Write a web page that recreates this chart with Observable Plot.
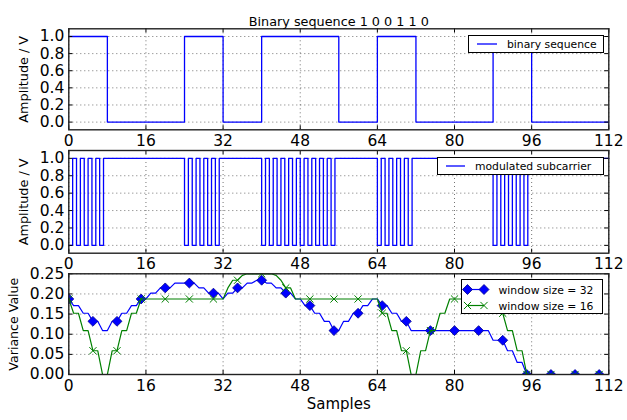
<!DOCTYPE html>
<html>
<head>
<meta charset="utf-8">
<script src="https://cdn.jsdelivr.net/npm/d3@7"></script>
<script src="https://cdn.jsdelivr.net/npm/@observablehq/plot@0.6"></script>
<style>
  body { margin: 0; background: #fff; }
  #chart { position: relative; width: 627px; height: 420px; font-family: "DejaVu Sans", sans-serif; background: #fff; overflow: hidden; }
  #chart > svg { position: absolute; left: 0; overflow: visible; }
  .lg { position: absolute; overflow: visible; }
</style>
</head>
<body>
<div id="chart"></div>
<script>
// ---------------- data ----------------
const xTicks = [0, 16, 32, 48, 64, 80, 96, 112];
const ampTicks = [0, 0.2, 0.4, 0.6, 0.8, 1.0];
const varTicks = [0, 0.05, 0.10, 0.15, 0.20, 0.25];

const titleText = "Binary sequence 1 0 0 1 1 0";

// binary (Manchester) sequence: change points and level after each
const binaryX = [0, 8, 24, 32, 40, 56, 64, 72, 88, 96, 112];
const binaryY = [1, 0, 1, 0, 1, 0, 1, 0, 1, 0, 0];

// modulated subcarrier: low intervals [start, end] (high elsewhere)
const subLows = [
  [0, 0.8], [1.6, 2.4], [3.2, 4.0], [4.8, 5.6], [6.4, 7.2],
  [24, 24.8], [25.6, 26.4], [27.2, 28.0], [28.8, 29.6], [30.4, 31.2],
  [40, 40.8], [41.6, 42.4], [43.2, 44.0], [44.8, 45.6], [46.4, 47.2],
  [48, 48.8], [49.6, 50.4], [51.2, 52.0], [52.8, 53.6], [54.4, 55.2],
  [64, 64.8], [65.6, 66.4], [67.2, 68.0], [68.8, 69.6], [70.4, 71.2],
  [88, 88.8], [89.6, 90.4], [91.2, 92.0], [92.8, 93.6], [94.4, 95.2]
];

// variance, window size = 32 (samples 0..112)
const var32 = [
  0.1875, 0.171, 0.171, 0.152, 0.152, 0.132, 0.132, 0.109, 0.109, 0.132,
  0.132, 0.152, 0.152, 0.171, 0.171, 0.1875, 0.1875, 0.202, 0.202, 0.215,
  0.215, 0.215, 0.227, 0.227, 0.227, 0.227, 0.227, 0.215, 0.215, 0.202,
  0.202, 0.202, 0.1875, 0.202, 0.202, 0.215, 0.215, 0.227, 0.227, 0.234,
  0.234, 0.227, 0.227, 0.215, 0.215, 0.202, 0.202, 0.1875, 0.1875, 0.171,
  0.171, 0.152, 0.152, 0.132, 0.132, 0.109, 0.109, 0.132, 0.132, 0.152,
  0.152, 0.171, 0.171, 0.1875, 0.1875, 0.171, 0.171, 0.152, 0.152, 0.132,
  0.132, 0.109, 0.109, 0.109, 0.109, 0.109, 0.109, 0.109, 0.109, 0.109,
  0.109, 0.109, 0.109, 0.109, 0.109, 0.109, 0.109, 0.109, 0.085, 0.085,
  0.085, 0.059, 0.059, 0.030, 0.030, 0, 0, 0, 0, 0,
  0, 0, 0, 0, 0, 0, 0, 0, 0, 0,
  0, 0, 0
];

// variance, window size = 16 (samples 0..112)
const var16 = [
  0.1875, 0.152, 0.152, 0.109, 0.109, 0.059, 0.059, 0, 0, 0.059,
  0.059, 0.109, 0.109, 0.152, 0.152, 0.1875, 0.1875, 0.1875, 0.1875, 0.1875,
  0.1875, 0.1875, 0.1875, 0.1875, 0.1875, 0.1875, 0.1875, 0.1875, 0.1875, 0.1875,
  0.1875, 0.1875, 0.1875, 0.215, 0.234, 0.234, 0.246, 0.25, 0.25, 0.25,
  0.25, 0.25, 0.25, 0.246, 0.234, 0.215, 0.215, 0.1875, 0.1875, 0.1875,
  0.1875, 0.1875, 0.1875, 0.1875, 0.1875, 0.1875, 0.1875, 0.1875, 0.1875, 0.1875,
  0.1875, 0.1875, 0.1875, 0.1875, 0.1875, 0.152, 0.152, 0.109, 0.109, 0.059,
  0.059, 0, 0, 0.059, 0.059, 0.109, 0.109, 0.152, 0.152, 0.1875,
  0.1875, 0.1875, 0.1875, 0.1875, 0.1875, 0.1875, 0.1875, 0.1875, 0.1875, 0.152,
  0.152, 0.109, 0.109, 0.059, 0.059, 0, 0, 0, 0, 0,
  0, 0, 0, 0, 0, 0, 0, 0, 0, 0,
  0, 0, 0
];

const legend1 = "binary sequence";
const legend2 = "modulated subcarrier";
const legend3a = "window size = 32";
const legend3b = "window size = 16";
const ampLabel = "Amplitude / V";
const varLabel = "Variance Value";
const xLabel = "Samples";

// ---------------- build tables ----------------
const binaryData = binaryX.map((x, i) => ({x, y: binaryY[i]}));
const subData = [];
subLows.forEach(([a, b]) => { subData.push({x: a, y: 0}); subData.push({x: b, y: 1}); });
subData.push({x: 112, y: 1});
const w32Data = var32.map((y, x) => ({x, y}));
const w16Data = var16.map((y, x) => ({x, y}));
const markEvery = d => d.x % 5 === 0;

// ---------------- styles ----------------
const BLUE = "#0000ff", GREEN = "#008000";
const FONT = "DejaVu Sans, sans-serif";
const W = 627, ML = 68.3, MR = W - 608.3;

const diamondSym = {draw(c, size) { const r = Math.sqrt(size / Math.PI) * 1.1; c.moveTo(0, -r); c.lineTo(r, 0); c.lineTo(0, r); c.lineTo(-r, 0); c.closePath(); }};
const timesSym = {draw(c, size) { const r = Math.sqrt(size / Math.PI); c.moveTo(-r, -r); c.lineTo(r, r); c.moveTo(-r, r); c.lineTo(r, -r); }};

function panel({top, height, mt, mb, yDomain, yTicks, yFmt, marks, extra}) {
  const ph = height - mt - mb;
  const pw = W - ML - MR;
  const svg = Plot.plot({
    width: W, height,
    marginLeft: ML, marginRight: MR, marginTop: mt, marginBottom: mb,
    style: {background: "transparent", fontFamily: FONT, color: "#000", overflow: "visible"},
    x: {domain: [0, 112]},
    y: {domain: yDomain},
    marks: [
      Plot.ruleX(xTicks, {x: d => d, stroke: "#000", strokeOpacity: 0.55, strokeWidth: 1, strokeDasharray: "1,3"}),
      Plot.ruleY(yTicks, {y: d => d, stroke: "#000", strokeOpacity: 0.55, strokeWidth: 1, strokeDasharray: "1,3"}),
      ...marks,
      // inward ticks on four sides
      Plot.tickX(xTicks, {x: d => d, insetTop: ph - 4, stroke: "#000"}),
      Plot.tickX(xTicks, {x: d => d, insetBottom: ph - 4, stroke: "#000"}),
      Plot.tickY(yTicks, {y: d => d, insetRight: pw - 4, stroke: "#000"}),
      Plot.tickY(yTicks, {y: d => d, insetLeft: pw - 4, stroke: "#000"}),
      Plot.frame({stroke: "#222", strokeWidth: 1.4}),
      Plot.axisX(xTicks, {anchor: "bottom", tickSize: 0, tickPadding: 5, label: null, fontSize: 15.5}),
      Plot.axisY(yTicks, {anchor: "left", tickSize: 0, tickPadding: 4.5, tickFormat: yFmt, label: null, fontSize: 15.5}),
      ...(extra || [])
    ]
  });
  svg.style.top = top + "px";
  document.getElementById("chart").appendChild(svg);
}

// Panel 1
panel({
  top: 0, height: 152, mt: 28.3, mb: 22.7,
  yDomain: [-0.09, 1.09], yTicks: ampTicks, yFmt: d3.format(".1f"),
  marks: [
    Plot.line(binaryData, {x: "x", y: "y", curve: "step-after", stroke: BLUE, strokeWidth: 1.3})
  ],
  extra: [
    Plot.text([titleText], {text: d => d, frameAnchor: "top", dy: -12, fontSize: 12.8}),
    Plot.text([ampLabel], {text: d => d, frameAnchor: "left", textAnchor: "middle", dx: -45, rotate: -90, fontSize: 12.8})
  ]
});

// Panel 2
panel({
  top: 130, height: 145, mt: 20, mb: 22.3,
  yDomain: [-0.09, 1.09], yTicks: ampTicks, yFmt: d3.format(".1f"),
  marks: [
    Plot.line(subData, {x: "x", y: "y", curve: "step-after", stroke: BLUE, strokeWidth: 1.3})
  ],
  extra: [
    Plot.text([ampLabel], {text: d => d, frameAnchor: "left", textAnchor: "middle", dx: -45, rotate: -90, fontSize: 12.8})
  ]
});

// Panel 3
panel({
  top: 253, height: 167, mt: 20.3, mb: 46,
  yDomain: [0, 0.25], yTicks: varTicks, yFmt: d3.format(".2f"),
  marks: [
    Plot.line(w32Data, {x: "x", y: "y", stroke: BLUE, strokeWidth: 1.2, clip: true}),
    Plot.dot(w32Data.filter(markEvery), {x: "x", y: "y", symbol: diamondSym, r: 4.5, fill: BLUE, stroke: "#00008b", strokeWidth: 0.8, clip: true}),
    Plot.line(w16Data, {x: "x", y: "y", stroke: GREEN, strokeWidth: 1.2, clip: true}),
    Plot.dot(w16Data.filter(markEvery), {x: "x", y: "y", symbol: timesSym, r: 3.6, fill: "none", stroke: GREEN, strokeWidth: 1, clip: true})
  ],
  extra: [
    Plot.text([varLabel], {text: d => d, frameAnchor: "left", textAnchor: "middle", dx: -55, rotate: -90, fontSize: 12.6}),
    Plot.text([xLabel], {text: d => d, frameAnchor: "bottom", dy: 34, fontSize: 15})
  ]
});

// ---------------- legends ----------------
const NS = "http://www.w3.org/2000/svg";
function el(name, attrs, parent) {
  const e = document.createElementNS(NS, name);
  for (const k in attrs) e.setAttribute(k, attrs[k]);
  if (parent) parent.appendChild(e);
  return e;
}
function legendBox(left, top, w, h) {
  const s = el("svg", {width: w, height: h, class: "lg"});
  s.style.left = left + "px"; s.style.top = top + "px";
  el("rect", {x: 0.5, y: 0.5, width: w - 1, height: h - 1, fill: "#fff", stroke: "#000", "stroke-width": 1}, s);
  document.getElementById("chart").appendChild(s);
  return s;
}
function legendText(s, x, y, str) {
  const t = el("text", {x, y, "font-family": FONT, "font-size": 10.8, "dominant-baseline": "central", fill: "#000"}, s);
  t.textContent = str;
}
// panel 1 legend
{
  const s = legendBox(467.5, 34.5, 136, 18);
  el("line", {x1: 9, x2: 29, y1: 9, y2: 9, stroke: BLUE, "stroke-width": 1.3}, s);
  legendText(s, 39, 9.5, legend1);
}
// panel 2 legend
{
  const s = legendBox(436.5, 156.5, 167, 18);
  el("line", {x1: 9, x2: 28, y1: 9, y2: 9, stroke: BLUE, "stroke-width": 1.3}, s);
  legendText(s, 38, 9.5, legend2);
}
// panel 3 legend
{
  const s = legendBox(460.5, 278.5, 142, 35);
  const ys = [10.5, 26.5];
  el("line", {x1: 6.5, x2: 23, y1: ys[0], y2: ys[0], stroke: BLUE, "stroke-width": 1.2}, s);
  [6.5, 23].forEach(x => el("path", {d: `M${x},${ys[0]-5}L${x+5},${ys[0]}L${x},${ys[0]+5}L${x-5},${ys[0]}Z`, fill: BLUE, stroke: "#00008b", "stroke-width": 0.8}, s));
  el("line", {x1: 6.5, x2: 23, y1: ys[1], y2: ys[1], stroke: GREEN, "stroke-width": 1.2}, s);
  [6.5, 23].forEach(x => el("path", {d: `M${x-3.6},${ys[1]-3.6}L${x+3.6},${ys[1]+3.6}M${x-3.6},${ys[1]+3.6}L${x+3.6},${ys[1]-3.6}`, fill: "none", stroke: GREEN, "stroke-width": 1}, s));
  legendText(s, 37.5, ys[0] + 0.5, legend3a);
  legendText(s, 37.5, ys[1] + 0.5, legend3b);
}
</script>
</body>
</html>
